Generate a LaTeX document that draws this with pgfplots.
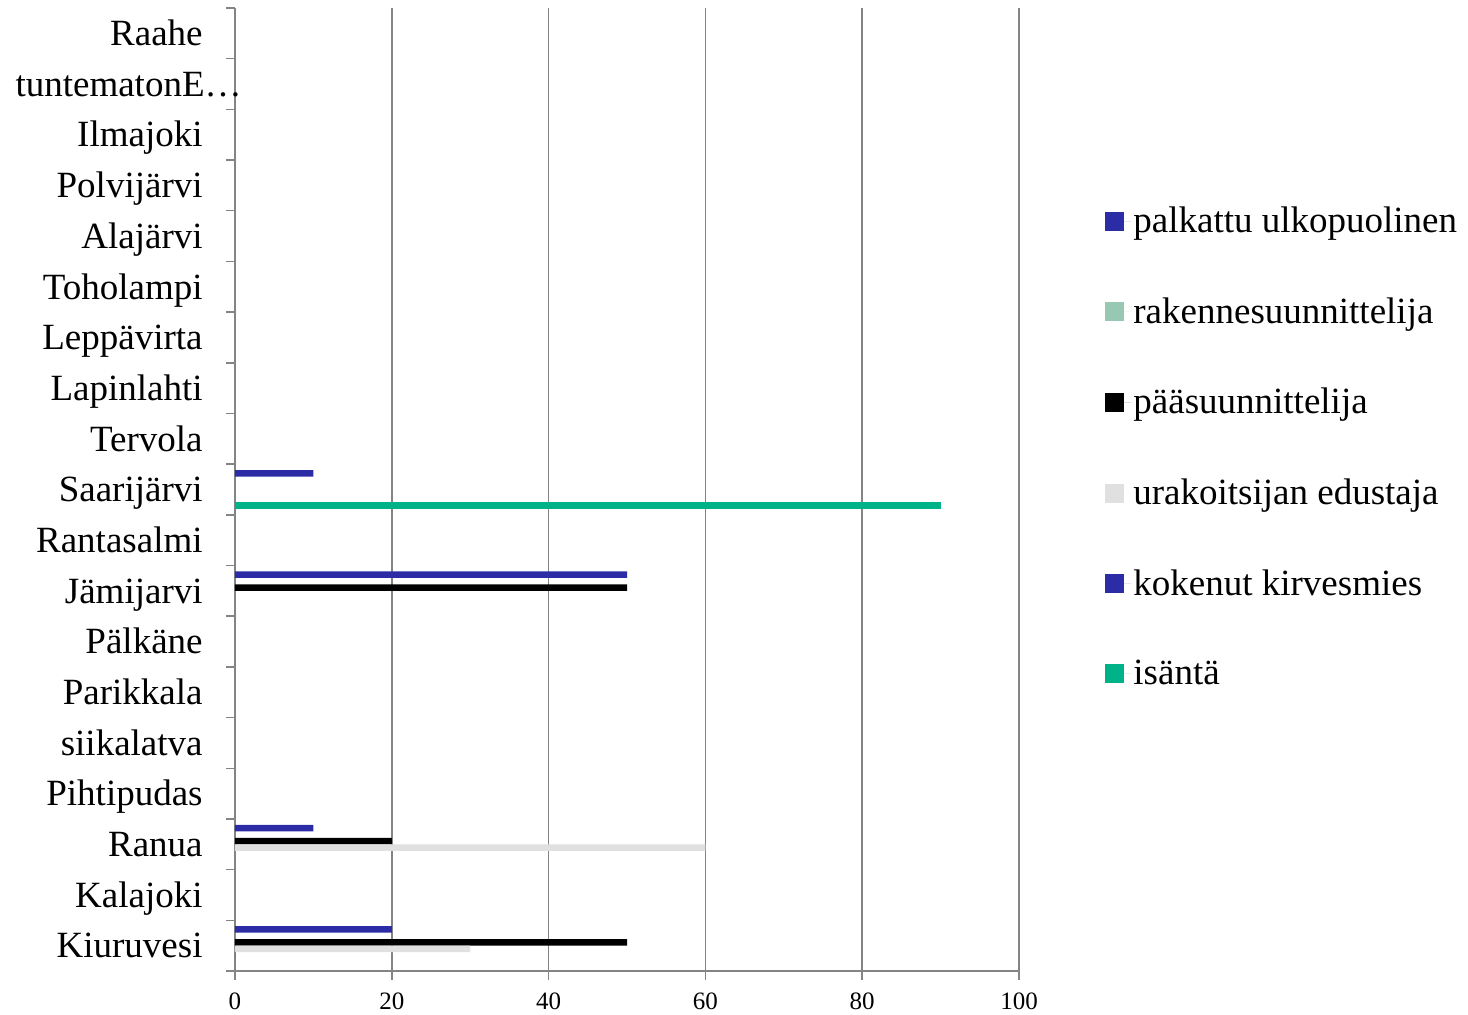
\documentclass[border=0pt]{standalone}
\usepackage{fontspec}
\setmainfont{Liberation Serif}
\usepackage{pgfplots}
\pgfplotsset{compat=1.18}

\definecolor{cblue}{RGB}{44,44,166}
\definecolor{cteal}{RGB}{150,200,180}
\definecolor{cgray}{RGB}{224,224,224}
\definecolor{cgreen}{RGB}{0,178,135}
\definecolor{gridgray}{RGB}{132,132,132}

\begin{document}
\begin{tikzpicture}
\begin{axis}[
    scale only axis,
    width=392pt, height=481.5pt,
    xbar, bar width=0.128,
    xmin=0, xmax=100,
    ymin=-0.5, ymax=18.5,
    axis x line*=bottom, axis y line*=left,
    axis line style={gridgray, line width=0.75pt},
    tick style={gridgray, line width=0.75pt},
    tick align=outside,
    major tick length=4.5pt,
    xtick={0,20,...,100},
    xmajorgrids,
    grid style={gridgray, line width=0.75pt},
    /pgf/number format/assume math mode=true,
    xticklabel style={font=\fontsize{12.5}{14}\selectfont, inner sep=0pt, yshift=-6pt},
    ytick={-0.5,0.5,...,18.5},
    yticklabels={},
    extra y ticks={0,...,18},
    extra y tick labels={Kiuruvesi,Kalajoki,Ranua,Pihtipudas,siikalatva,Parikkala,Pälkäne,Jämijarvi,Rantasalmi,Saarijärvi,Tervola,Lapinlahti,Leppävirta,Toholampi,Alajärvi,Polvijärvi,Ilmajoki,{tuntematonE…\kern-19.5pt},Raahe},
    extra y tick style={major tick length=0pt, yticklabel style={font=\fontsize{18.5}{22}\selectfont, inner sep=0pt, text height=12.25pt, text depth=0pt, xshift=-16pt}},
    legend cell align=left,
    legend style={draw=none, fill=none, inner sep=0pt, anchor=west,
        at={(axis description cs:1.1097,0.544)},
        font=\fontsize{18.5}{22}\selectfont, row sep=29pt,
        nodes={inner sep=1pt, anchor=west}},
    legend image code/.code={\fill[#1, draw=none] (0pt,-4.75pt) rectangle (9.5pt,4.75pt); \path (0pt,0pt) -- (13pt,0pt);},
]
\coordinate (bb1) at (rel axis cs:0,0);
\addplot[fill=cblue, draw=none, bar shift=0.32] coordinates {(20,0) (10,2) (50,7) (10,9)};
\addlegendentry{palkattu ulkopuolinen}
\addplot[fill=cteal, draw=none, bar shift=0.192] coordinates {(0,0)};
\addlegendentry{rakennesuunnittelija}
\addplot[fill=black, draw=none, bar shift=0.064] coordinates {(50,0) (20,2) (50,7)};
\addlegendentry{pääsuunnittelija}
\addplot[fill=cgray, draw=none, bar shift=-0.064] coordinates {(30,0) (60,2)};
\addlegendentry{urakoitsijan edustaja}
\addplot[fill=cblue, draw=none, bar shift=-0.192] coordinates {(0,0)};
\addlegendentry{kokenut kirvesmies}
\addplot[fill=cgreen, draw=none, bar shift=-0.32] coordinates {(90,9)};
\addlegendentry{isäntä}
\end{axis}
\pgfresetboundingbox
\path[use as bounding box] ([xshift=-117.5pt, yshift=-21.5pt]bb1) rectangle ([xshift=616.5pt, yshift=485.5pt]bb1);
\end{tikzpicture}
\end{document}
